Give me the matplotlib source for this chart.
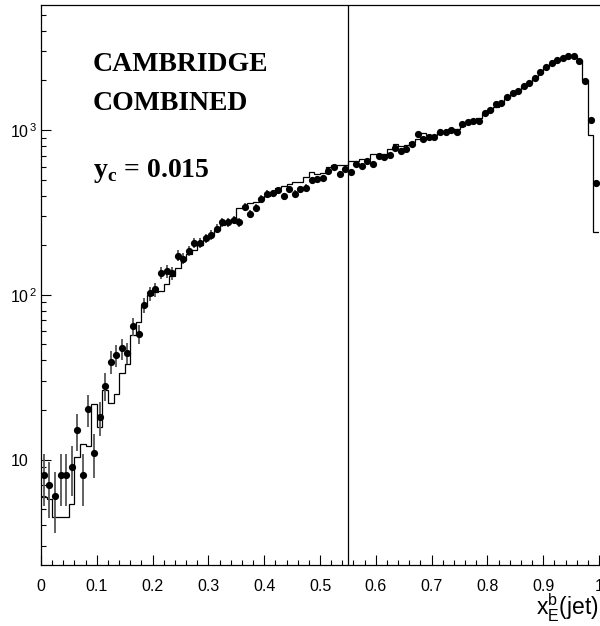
import numpy as np
import matplotlib
matplotlib.use("Agg")
import matplotlib.pyplot as plt
from matplotlib.ticker import FixedLocator, FixedFormatter, LogLocator, NullFormatter, MultipleLocator

plt.rcParams['font.family'] = ['Liberation Sans', 'DejaVu Sans']
plt.rcParams['mathtext.fontset'] = 'custom'
plt.rcParams['mathtext.rm'] = 'Liberation Sans'
plt.rcParams['mathtext.it'] = 'Liberation Sans:italic'
plt.rcParams['mathtext.bf'] = 'Liberation Serif:bold'

# ---- data ----
x_min, x_max, n_bins = 0.0, 1.0, 100

data_values = [8, 7.0, 6.0, 8.0, 8.0, 9.0, 15.1, 8.0, 20.2, 11.0,
               18.1, 28.0, 39.3, 43.1, 47.3, 44.5, 64.6, 58, 86.3, 102,
               108, 136, 139, 135, 173, 166, 185, 207, 207, 220,
               231, 252, 275, 275, 284, 275, 342, 308, 335, 383,
               410, 413, 430, 397, 436, 411, 438, 447, 495, 504,
               513, 564, 599, 538, 580, 558, 619, 602, 648, 624,
               695, 689, 702, 781, 746, 764, 822, 946, 878, 911,
               907, 977, 977, 1000, 973, 1082, 1123, 1139, 1130, 1262,
               1330, 1445, 1465, 1592, 1670, 1733, 1857, 1936, 2078, 2240,
               2421, 2540, 2660, 2723, 2825, 2825, 2634, 1992, 1150, 475]

data_errors = [2.8, 2.6, 2.4, 2.8, 2.8, 3.0, 3.9, 2.8, 4.5, 3.3,
               4.3, 5.3, 6.3, 6.6, 6.9, 6.7, 8.0, 7.6, 9.3, 10.1,
               10.4, 11.7, 11.8, 11.6, 13.2, 12.9, 13.6, 14.4, 14.4, 14.8,
               15.2, 15.9, 16.6, 16.6, 16.9, 16.6, 18.5, 17.5, 18.3, 19.6,
               20.2, 20.3, 20.7, 19.9, 20.9, 20.3, 20.9, 21.1, 22.2, 22.4,
               22.6, 23.7, 24.5, 23.2, 24.1, 23.6, 24.9, 24.5, 25.5, 25.0,
               26.4, 26.2, 26.5, 27.9, 27.3, 27.6, 28.7, 30.8, 29.6, 30.2,
               30.1, 31.3, 31.3, 31.6, 31.2, 32.9, 33.5, 33.7, 33.6, 35.5,
               36.5, 38.0, 38.3, 39.9, 40.9, 41.6, 43.1, 44.0, 45.6, 47.3,
               49.2, 50.4, 51.6, 52.2, 53.2, 53.2, 51.3, 44.6, 33.9, 21.8]

mc_values = [5.9, 5.8, 4.5, 4.5, 4.5, 5.4, 10.3, 12.4, 12.0, 21.7,
             15.7, 26.4, 22, 25, 33.6, 38, 57, 68, 85, 100,
             104, 105, 117, 130, 146, 162, 178, 187, 200, 215,
             231, 247, 265, 275, 290, 335, 340, 360, 365, 385,
             400, 420, 445, 459, 470, 486, 486, 521, 556, 541,
             551, 599, 613, 613, 613, 645, 650, 667, 667, 715,
             715, 715, 764, 818, 802, 810, 849, 882, 955, 933,
             933, 977, 977, 1010, 1010, 1057, 1098, 1135, 1178, 1250,
             1310, 1385, 1438, 1570, 1640, 1720, 1840, 1930, 2070, 2220,
             2400, 2530, 2650, 2720, 2800, 2800, 2660, 2012, 933, 241]

cut_value = 0.55
y_ticks = [10, 100, 1000]
y_tick_labels = ['10', r'10$^{\,2}$', r'10$^{\,3}$']
x_ticks = [0, 0.1, 0.2, 0.3, 0.4, 0.5, 0.6, 0.7, 0.8, 0.9, 1.0]
x_tick_labels = ['0', '0.1', '0.2', '0.3', '0.4', '0.5', '0.6', '0.7', '0.8', '0.9', '1']

edges = np.linspace(x_min, x_max, n_bins + 1)
centers = 0.5 * (edges[:-1] + edges[1:])

fig = plt.figure(figsize=(6.0, 6.26), dpi=100)
ax = fig.add_axes([41 / 600, 61 / 626, 558 / 600, 560 / 626])

ax.stairs(mc_values, edges, baseline=None, color='black', lw=0.9)
ax.errorbar(centers, data_values, yerr=data_errors, fmt='none',
            ecolor='#555555', elinewidth=1.3, capsize=0, zorder=3)
ax.plot(centers, data_values, 'o', color='black', ms=5.2, mew=0, zorder=4)
ax.axvline(cut_value, color='black', lw=0.9)

ax.set_yscale('log')
ax.set_xlim(x_min, x_max)
ax.set_ylim(2.29, 5740)

ax.yaxis.set_major_locator(FixedLocator(y_ticks))
ax.yaxis.set_major_formatter(FixedFormatter(y_tick_labels))
ax.yaxis.set_minor_locator(LogLocator(base=10, subs=np.arange(2, 10)))
ax.yaxis.set_minor_formatter(NullFormatter())
ax.xaxis.set_major_locator(FixedLocator(x_ticks))
ax.xaxis.set_major_formatter(FixedFormatter(x_tick_labels))
ax.xaxis.set_minor_locator(MultipleLocator(0.02))

ax.tick_params(axis='both', which='major', direction='in', length=7.5, width=0.8,
               labelsize=11.5)
ax.tick_params(axis='both', which='minor', direction='in', length=3.8, width=0.8)
ax.tick_params(axis='y', which='major', pad=22)
ax.tick_params(axis='x', which='major', pad=10)
for lbl in ax.get_yticklabels():
    lbl.set_horizontalalignment('left')

ax.spines['right'].set_visible(False)
for s in ['left', 'bottom', 'top']:
    ax.spines[s].set_linewidth(0.9)

tfont = dict(family='Liberation Serif', weight='bold', fontsize=20, color='black')
fig.text(92.7 / 600, 1 - 71 / 626, 'CAMBRIDGE', va='baseline', ha='left', **tfont)
fig.text(92.7 / 600, 1 - 110 / 626, 'COMBINED', va='baseline', ha='left', **tfont)
fig.text(92.7 / 600, 1 - 176.7 / 626, r'$\mathbf{y}_{\mathbf{c}}$ = 0.015', va='baseline',
         ha='left', **tfont)

fig.text(598.5 / 600, 1 - 616 / 626, r'x$_{\rm E}^{\rm b}$(jet)', ha='right', va='baseline',
         fontsize=16.5, family='Liberation Sans')

fig.savefig('out.png', dpi=100, facecolor='white')
